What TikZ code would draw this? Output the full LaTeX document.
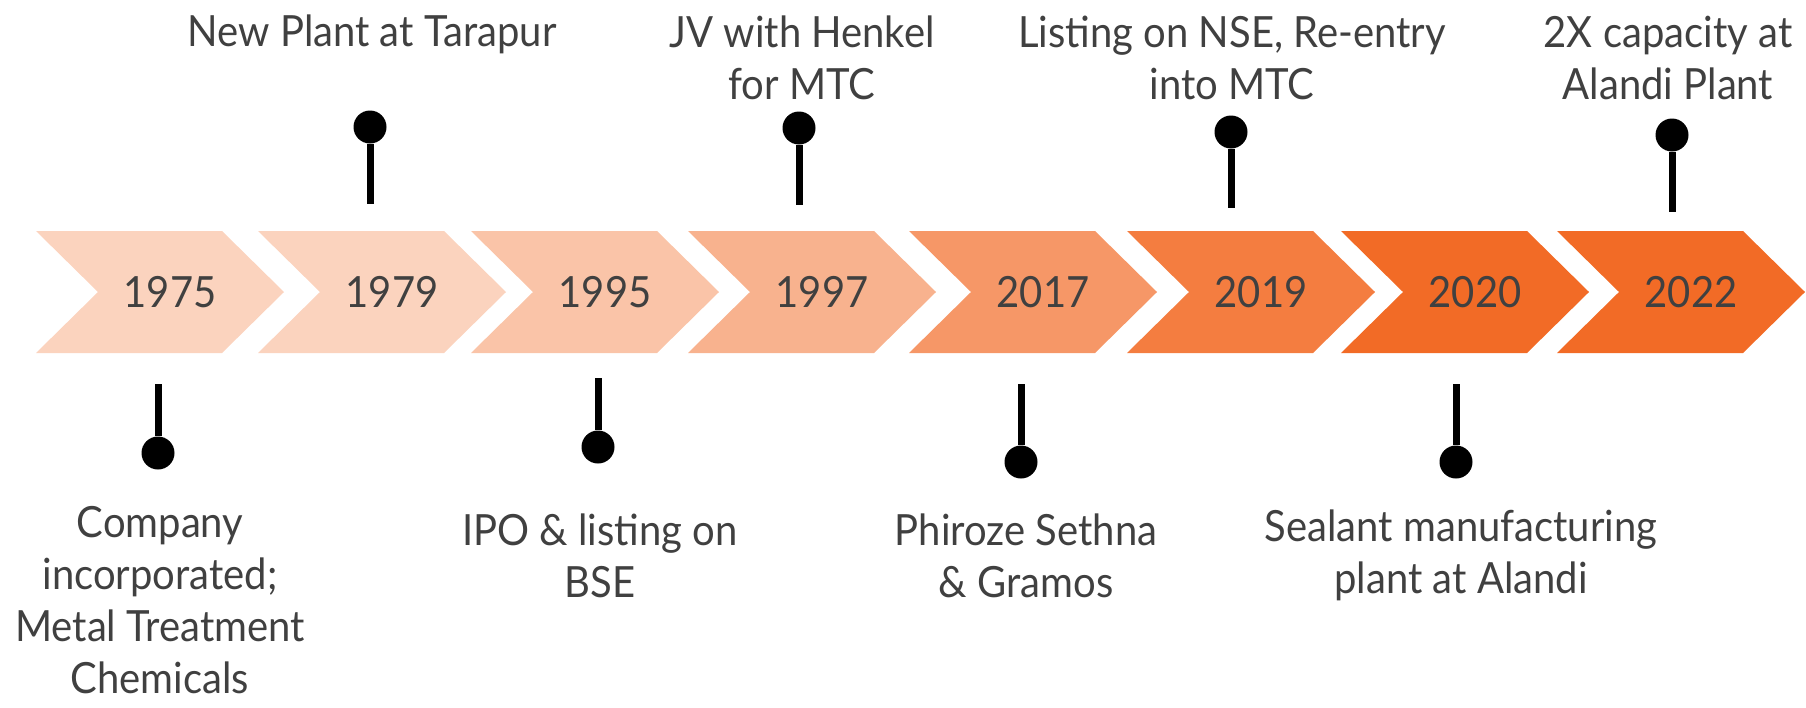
\documentclass[tikz,border=0pt]{standalone}
\usepackage{fontspec}
\setmainfont[FakeStretch=0.93]{Lato}
\usetikzlibrary{positioning}
\definecolor{tlorange}{HTML}{F26B26}
\definecolor{tltext}{HTML}{404040}
\tikzset{yeartxt/.style={text=tltext,font=\fontsize{43}{52}\selectfont,inner sep=0pt},
evtxt/.style={text=tltext,font=\fontsize{43}{52}\selectfont,align=center,inner sep=0pt,anchor=base},
pin/.style={circle,fill=black,inner sep=0pt,minimum size=33pt},
stem/.style={line width=7pt}}

\begin{document}
\begin{tikzpicture}[x=1pt,y=-1pt]
\useasboundingbox (0,0) rectangle (1806,707);
% chevrons with the years
\foreach \yr/\l/\c in {1975/36/30,1979/258/30,1995/471/40,1997/688/52,2017/909/70,2019/1127/88,2020/1341/100,2022/1557/100}{
\fill[tlorange!\c] (\l,231) -- ++(186,0) -- ++(62,61) -- ++(-62,61) -- ++(-186,0) -- ++(62,-61) -- cycle;
\node[yeartxt] (y\yr) at (\l+134,292) {\yr};}
% pins
\foreach \yr/\x/\cy/\sb in {1979/370/127/204,1997/799/128/205,2019/1231/132/208,2022/1672/135/212,
1975/158/453/384,1995/598/447/378,2017/1021/462/384,2020/1456/462/384}{
\node[pin] (d\yr) at (\x,\cy) {};\coordinate (s\yr) at (\x,\sb);
\draw[stem] (d\yr) -- (s\yr);}
% events (base = last line)
\node[evtxt] (l1979) at (372,46) {New Plant at Tarapur};
\node[evtxt] (l1997) at (802,99) {JV with Henkel\\for MTC};
\node[evtxt] (l2019) at (1232,99) {Listing on NSE, Re-entry\\into MTC};
\node[evtxt] (l2022) at (1668,99) {2X capacity at\\Alandi Plant};
\node[evtxt] (l1975) at (160,693) {Company\\incorporated;\\Metal Treatment\\Chemicals};
\node[evtxt] (l1995) at (600,597) {IPO \& listing on\\BSE};
\node[evtxt] (l2017) at (1026,597) {Phiroze Sethna\\\& Gramos};
\node[evtxt] (l2020) at (1461,593) {Sealant manufacturing\\plant at Alandi};
\end{tikzpicture}
\end{document}
